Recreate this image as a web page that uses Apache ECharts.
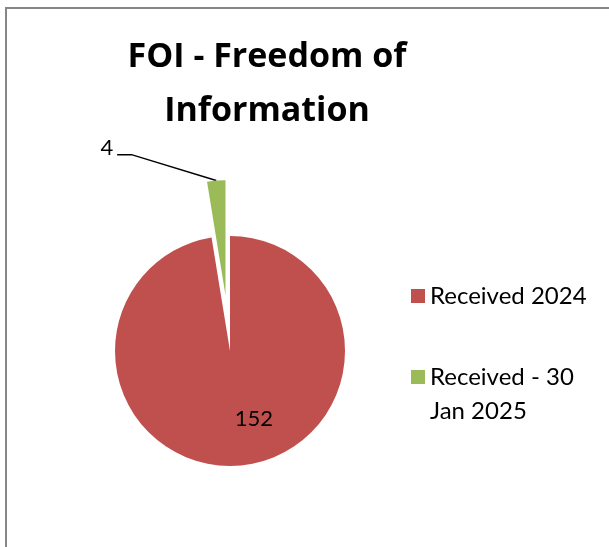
<!DOCTYPE html>
<html>
<head>
<meta charset="utf-8">
<script src="https://cdn.jsdelivr.net/npm/echarts@6/dist/echarts.min.js"></script>
<style>
    html, body { margin: 0; padding: 0; background: #fff; }
    #foi_chart { width: 609px; height: 547px; }
</style>
</head>
<body>
<div id="foi_chart"></div>
<script>
//饼图数据
var categories = ['Received 2024', 'Received - 30 Jan 2025'];
var counts = [152, 4];
var colors = ['#C0504D', '#9BBB59'];
var chartTitle = 'FOI - Freedom of\nInformation';

var fontFamily = 'Lato, "Open Sans", sans-serif';
var titleFont = '"Open Sans", sans-serif';

var pieData = categories.map(function (name, i) {
    var item = {
        name: name,
        value: counts[i],
        itemStyle: {color: colors[i]}
    };
    if (i === 0) {
        item.label = {position: 'inside'};
    } else {
        //小块扇区抽出, 引导线: minTurnAngle 让第一段斜着走
        item.selected = true;
        item.label = {position: 'outside', distanceToLabelLine: 4};
        item.labelLine = {show: true, length: 26, length2: 97, minTurnAngle: 163};
    }
    return item;
});

var foiChartObj = echarts.init(document.getElementById('foi_chart'));
var foiChartObjOption = {
    animation: false,
    backgroundColor: '#fff',
    title: {
        text: chartTitle,
        left: 262,
        top: 25,
        textAlign: 'center',
        textStyle: {
            fontFamily: titleFont,
            fontWeight: 'bold',
            fontSize: 34,
            lineHeight: 54,
            color: '#000'
        }
    },
    legend: {
        orient: 'vertical',
        left: 411,
        top: 279,
        padding: 0,
        itemWidth: 14,
        itemHeight: 14,
        itemGap: 13,
        icon: 'rect',
        selectedMode: false,
        textStyle: {
            fontFamily: fontFamily,
            fontSize: 24,
            lineHeight: 34,
            color: '#000'
        },
        formatter: function (name) {
            //第一行空出来, 让色块对齐 "Received - 30"
            return name === categories[1] ? ' \nReceived - 30\nJan 2025' : name;
        }
    },
    graphic: [{
        type: 'rect',
        shape: {x: 6, y: 8, width: 700, height: 700},
        style: {fill: 'none', stroke: '#868686', lineWidth: 2},
        silent: true
    }],
    series: [{
        type: 'pie',
        center: [230, 351],
        radius: 115,
        startAngle: 90,
        clockwise: true,
        selectedMode: 'single',
        selectedOffset: 56,
        avoidLabelOverlap: false,
        emphasis: {disabled: true},
        itemStyle: {borderWidth: 0},
        label: {
            show: true,
            formatter: '{c}',
            fontFamily: fontFamily,
            fontSize: 22,
            color: '#000'
        },
        labelLine: {
            lineStyle: {color: '#000', width: 1.5}
        },
        labelLayout: function (params) {
            if (params.dataIndex === 0) {
                return {dx: 19, dy: 8};
            }
            return {dy: -7};
        },
        data: pieData
    }]
};
foiChartObj.setOption(foiChartObjOption);
</script>
</body>
</html>
